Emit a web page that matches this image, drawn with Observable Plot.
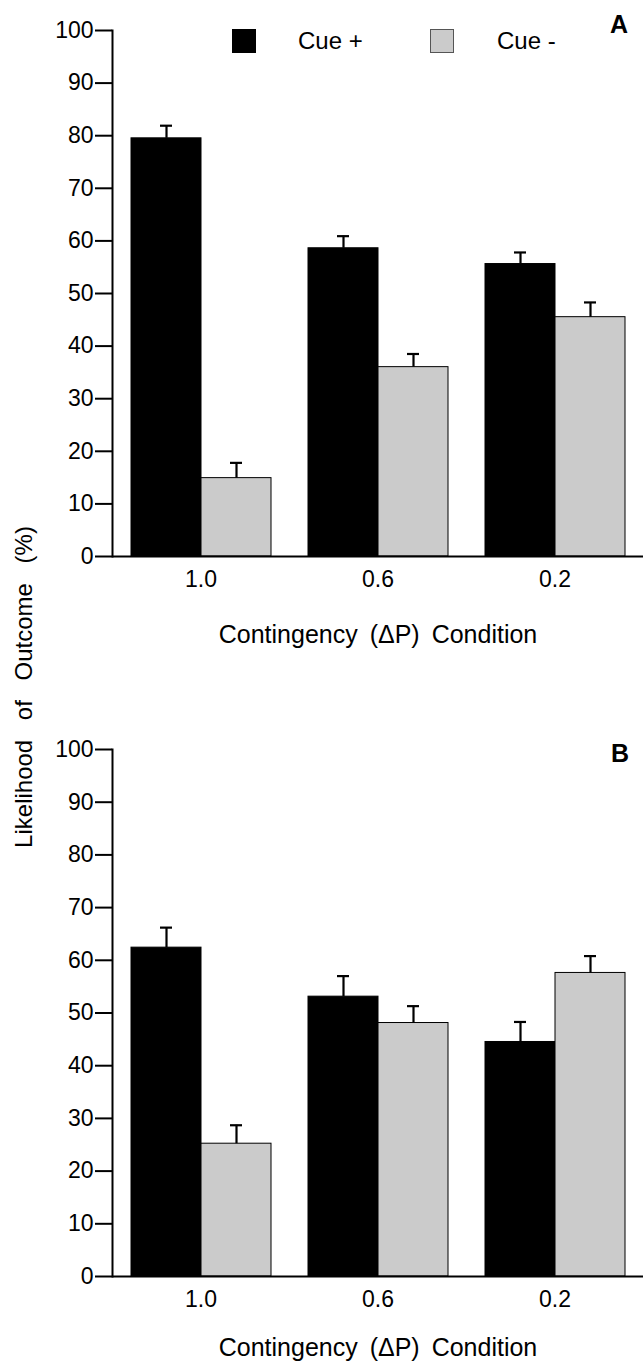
<!DOCTYPE html>
<html>
<head>
<meta charset="utf-8">
<script src="https://cdn.jsdelivr.net/npm/d3@7"></script>
<script src="https://cdn.jsdelivr.net/npm/@observablehq/plot@0.6"></script>
<style>
  body { margin: 0; background: #fff; }
  #wrap { position: relative; width: 643px; height: 1368px; font-family: "Liberation Sans", Arial, Helvetica, sans-serif; color: #000; overflow: hidden; }
  #wrap svg { display: block; }
  .abs { position: absolute; white-space: nowrap; line-height: 1; }
</style>
</head>
<body>
<div id="wrap"></div>
<script>
// ---- data ----
const conditions = ["1.0", "0.6", "0.2"];
const cues = ["Cue +", "Cue -"];
const yTicks = [0, 10, 20, 30, 40, 50, 60, 70, 80, 90, 100];

const panelACuePlus = [79.5, 58.6, 55.6];
const panelACuePlusErr = [2.4, 2.3, 2.2];
const panelACueMinus = [14.9, 36.0, 45.5];
const panelACueMinusErr = [2.9, 2.5, 2.8];

const panelBCuePlus = [62.4, 53.1, 44.5];
const panelBCuePlusErr = [3.8, 3.9, 3.8];
const panelBCueMinus = [25.2, 48.1, 57.6];
const panelBCueMinusErr = [3.5, 3.2, 3.2];

const xLabel = "Contingency (\u0394P) Condition";
const yLabel = "Likelihood of Outcome (%)";
const panelLabels = ["A", "B"];

// ---- build ----
function rows(plus, plusErr, minus, minusErr) {
  return conditions.flatMap((c, i) => [
    {condition: c, cue: cues[0], value: plus[i], upper: plus[i] + plusErr[i]},
    {condition: c, cue: cues[1], value: minus[i], upper: minus[i] + minusErr[i]}
  ]);
}

const FONT = '"Liberation Sans", Arial, Helvetica, sans-serif';
const GRAY = "#cbcbcb";

function panel(data, {height, marginTop, marginBottom, labelOffset}) {
  const svg = Plot.plot({
    width: 643,
    height,
    marginTop,
    marginBottom,
    marginLeft: 112,
    marginRight: 0,
    style: {fontFamily: FONT, fontSize: "23px", color: "black", background: "white", overflow: "visible"},
    fx: {domain: conditions, padding: 0},
    x: {domain: cues, paddingInner: 0, paddingOuter: 0.25, axis: null},
    y: {domain: [0, 100]},
    color: {domain: cues, range: ["#000000", GRAY]},
    marks: [
      Plot.barY(data, {fx: "condition", x: "cue", y: "value", fill: "cue", stroke: "black", strokeWidth: 1}),
      Plot.ruleX(data, {fx: "condition", x: "cue", y1: "value", y2: "upper", stroke: "black", strokeWidth: 2.2}),
      Plot.tickY(data, {fx: "condition", x: "cue", y: "upper", stroke: "black", strokeWidth: 2.2, inset: 29}),
      Plot.ruleY([0], {stroke: "black", strokeWidth: 2}),
      Plot.frame({anchor: "left", stroke: "black", strokeWidth: 2, facetAnchor: "left"}),
      Plot.axisY({ticks: yTicks, tickSize: 17, tickPadding: 2, stroke: "black", strokeWidth: 2, fontSize: 23, label: null}),
      Plot.axisFx({anchor: "bottom", tickSize: 0, tickPadding: 14, fontSize: 23, label: xLabel, labelAnchor: "center", labelArrow: "none", labelOffset})
    ]
  });
  d3.select(svg).selectAll('g[aria-label="fx-axis label"] text').style("word-spacing", "5px").attr("font-size", 25);
  return svg;
}

const wrap = document.getElementById("wrap");
wrap.appendChild(panel(rows(panelACuePlus, panelACuePlusErr, panelACueMinus, panelACueMinusErr), {height: 656, marginTop: 30, marginBottom: 100, labelOffset: 86}));
wrap.appendChild(panel(rows(panelBCuePlus, panelBCuePlusErr, panelBCueMinus, panelBCueMinusErr), {height: 712, marginTop: 93, marginBottom: 92, labelOffset: 79}));

// legend
function add(html, style) {
  const d = document.createElement("div");
  d.className = "abs";
  d.innerHTML = html;
  Object.assign(d.style, style);
  wrap.appendChild(d);
  return d;
}
add("", {left: "232px", top: "29px", width: "24px", height: "24px", background: "#000"});
add(cues[0], {left: "298px", top: "29px", fontSize: "24px"});
add("", {left: "430px", top: "29px", width: "22px", height: "22px", background: GRAY, border: "1px solid #555"});
add(cues[1], {left: "497px", top: "29px", fontSize: "24px"});
add(panelLabels[0], {left: "610px", top: "12px", fontSize: "25px", fontWeight: "bold"});
add(panelLabels[1], {left: "611px", top: "741px", fontSize: "25px", fontWeight: "bold"});
// y label
add(yLabel, {left: "24px", top: "687px", fontSize: "24px", wordSpacing: "13px", lineHeight: "24px", transform: "translate(-50%, -50%) rotate(-90deg)"});
</script>
</body>
</html>
